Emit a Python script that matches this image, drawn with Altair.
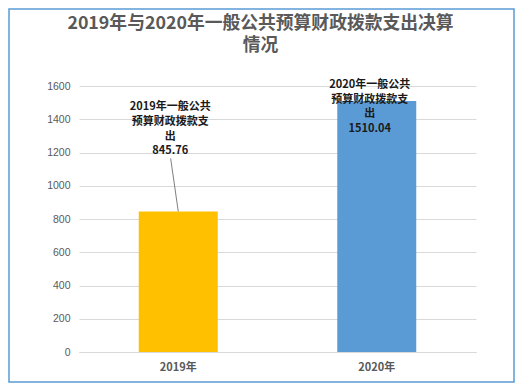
import altair as alt
import pandas as pd

years = ["2019年", "2020年"]
values = [845.76, 1510.04]
label_heads = ["2019年一般公共\n预算财政拨款支\n出", "2020年一般公共\n预算财政拨款支\n出"]
bar_colors = ["#FFC000", "#5B9BD5"]
y_ticks = [0, 200, 400, 600, 800, 1000, 1200, 1400, 1600]
title_lines = ["2019年与2020年一般公共预算财政拨款支出决算", "情况"]

df = pd.DataFrame({
    "year": years,
    "value": values,
    "label": [h + "\n" + f"{v:.2f}" for h, v in zip(label_heads, values)],
})

W, H = 397, 266
PL, PT, PR, PB = 71, 78, 39, 31
CJK = "Noto Sans CJK SC"

x = alt.X("year:N", sort=years, title=None,
          scale=alt.Scale(paddingInner=0, paddingOuter=0),
          axis=alt.Axis(labelAngle=0, ticks=False, domainColor="#D9D9D9",
                        labelFont=CJK, labelFontSize=11, labelFontWeight="bold",
                        labelColor="#595959", labelPadding=9))
y = alt.Y("value:Q", title=None,
          scale=alt.Scale(domain=[0, 1600], nice=False),
          axis=alt.Axis(values=y_ticks, format="d", domain=False, ticks=False,
                        gridColor="#D9D9D9", labelFont="Liberation Sans",
                        labelFontSize=10.5, labelColor="#595959", labelPadding=9))

base = alt.Chart(df)

bars = base.mark_bar(size=79).encode(
    x=x, y=y,
    color=alt.Color("year:N", sort=years,
                    scale=alt.Scale(domain=years, range=bar_colors), legend=None),
)

lbl19 = base.transform_filter(alt.datum.year == years[0]).mark_text(
    font=CJK, fontSize=11, fontWeight="bold", color="#1a1a1a",
    lineBreak="\n", lineHeight=14.7, baseline="alphabetic", align="center",
    dx=-8, dy=-101,
).encode(x=x, y=y, text="label:N")

lbl20 = base.transform_filter(alt.datum.year == years[1]).mark_text(
    font=CJK, fontSize=11, fontWeight="bold", color="#1a1a1a",
    lineBreak="\n", lineHeight=14.7, baseline="alphabetic", align="center",
    dx=-7, dy=-13,
).encode(x=x, y=y, text="label:N")

leader = base.transform_filter(alt.datum.year == years[0]).mark_rule(
    color="#7F7F7F", strokeWidth=1, xOffset=-7.6, yOffset=-53,
).encode(x=x, y=y, x2=alt.X2("year:N"), y2=alt.Y2("value:Q"))

border = base.transform_filter(alt.datum.year == years[0]).mark_rect(
    fillOpacity=0, stroke="#5B9BD5", strokeWidth=1.5,
).encode(x=alt.value(-PL + 1), x2=alt.value(W + PR - 1),
         y=alt.value(-PT + 1), y2=alt.value(H + PB - 1))

chart = alt.layer(bars, leader, lbl19, lbl20, border).properties(
    width=W, height=H,
    autosize=alt.AutoSizeParams(type="none"),
    padding={"left": PL, "top": PT, "right": PR, "bottom": PB},
    background="white",
    title=alt.TitleParams(text=title_lines, font=CJK, fontSize=17.8,
                          fontWeight="bold", color="#595959", anchor="middle",
                          baseline="alphabetic", dx=-17, offset=0, dy=61,
                          lineHeight=22),
).configure_view(stroke=None)

chart.save("out.html", embed_options={"renderer": "svg", "actions": False})
